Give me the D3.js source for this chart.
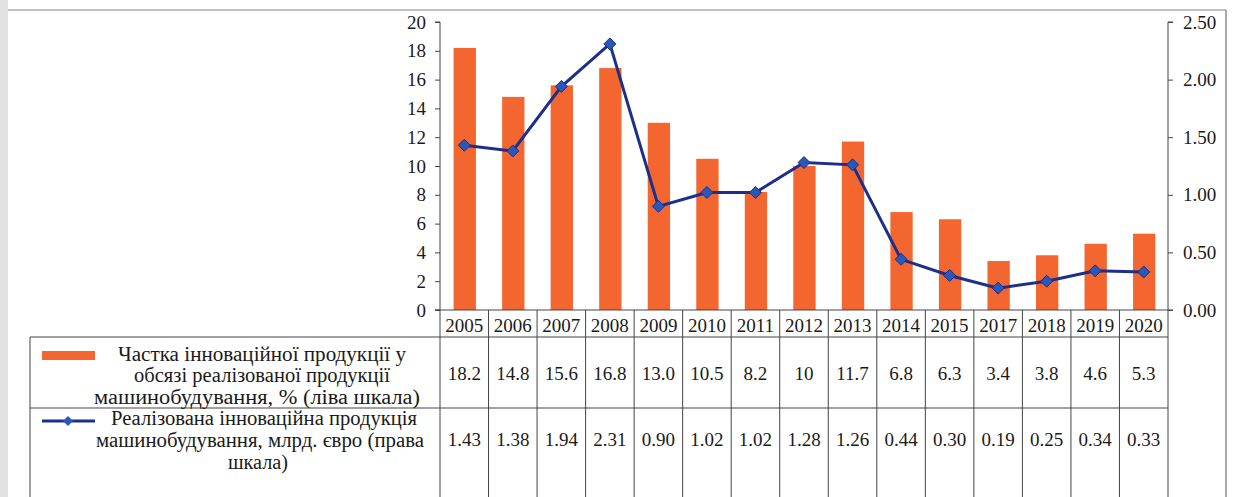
<!DOCTYPE html>
<html><head><meta charset="utf-8">
<script src="https://cdn.jsdelivr.net/npm/d3@7/dist/d3.min.js"></script>
<style>
body{margin:0;background:#fff;}
</style></head>
<body><svg id="c" width="1234" height="497"></svg>
<script>
const years = ["2005","2006","2007","2008","2009","2010","2011","2012","2013","2014","2015","2017","2018","2019","2020"];
const shareValues = [18.2,14.8,15.6,16.8,13.0,10.5,8.2,10,11.7,6.8,6.3,3.4,3.8,4.6,5.3];
const shareLabels = ["18.2","14.8","15.6","16.8","13.0","10.5","8.2","10","11.7","6.8","6.3","3.4","3.8","4.6","5.3"];
const salesValues = [1.43,1.38,1.94,2.31,0.90,1.02,1.02,1.28,1.26,0.44,0.30,0.19,0.25,0.34,0.33];
const salesLabels = ["1.43","1.38","1.94","2.31","0.90","1.02","1.02","1.28","1.26","0.44","0.30","0.19","0.25","0.34","0.33"];
const leftTicks = [0,2,4,6,8,10,12,14,16,18,20];
const rightTicks = [0,0.5,1,1.5,2,2.5];
const shareLegend = ["Частка інноваційної продукції у","обсязі реалізованої продукції","машинобудування, % (ліва шкала)"];
const salesLegend = ["Реалізована інноваційна продукція","машинобудування, млрд. євро (права","шкала)"];

const FONT = "'Liberation Serif', Tinos, 'Times New Roman', Times, 'DejaVu Serif', serif";
const svg = d3.select("#c");
const BAR = "#f4662f", LINE = "#1c2f8a", MARK = "#2a58b8", GRID = "#444";

// page artifacts
svg.append("rect").attr("x",0).attr("y",0).attr("width",8).attr("height",497).attr("fill","#e2e2e2");
svg.append("line").attr("x1",8).attr("x2",1226).attr("y1",10).attr("y2",10).attr("stroke","#888").attr("stroke-width",1.2);
svg.append("line").attr("x1",1226).attr("x2",1226).attr("y1",10).attr("y2",497).attr("stroke","#555");

const x = d3.scaleBand().domain(years).range([440,1168]);
const yL = d3.scaleLinear().domain([0,20]).range([310,22]);
const yR = d3.scaleLinear().domain([0,2.5]).range([310,22]);

// bars
svg.append("g").selectAll("rect").data(years).join("rect")
  .attr("x", d => x(d) + x.bandwidth()*0.28)
  .attr("width", x.bandwidth()*0.46)
  .attr("y", (d,i) => yL(shareValues[i]))
  .attr("height", (d,i) => yL(0) - yL(shareValues[i]))
  .attr("fill", BAR);

// axes
const gl = svg.append("g").attr("transform","translate(440,0)")
  .call(d3.axisLeft(yL).tickValues(leftTicks).tickSize(5).tickPadding(9).tickFormat(d3.format("d")));
const gr = svg.append("g").attr("transform","translate(1168,0)")
  .call(d3.axisRight(yR).tickValues(rightTicks).tickSize(5).tickPadding(10).tickFormat(d3.format(".2f")));
[gl,gr].forEach(g=>{
  g.attr("font-family",null).attr("font-size",null);
  g.select(".domain").attr("stroke",GRID).attr("d", g===gl ? "M-5,22H0V310H-5" : "M5,22H0V310H5");
  g.selectAll(".tick line").attr("stroke",GRID);
  g.selectAll("text").style("font-family",FONT).style("font-size","19px").attr("fill","#1a1a1a");
});

// x axis line
svg.append("line").attr("x1",435).attr("x2",1168).attr("y1",310).attr("y2",310).attr("stroke",GRID);

// line series
const line = d3.line().x((d,i)=>x(years[i])+x.bandwidth()/2).y(d=>yR(d));
svg.append("path").datum(salesValues).attr("d",line).attr("fill","none").attr("stroke",LINE).attr("stroke-width",3);
svg.append("g").selectAll("path").data(salesValues).join("path")
  .attr("transform",(d,i)=>`translate(${x(years[i])+x.bandwidth()/2},${yR(d)})`)
  .attr("d","M0,-6L6,0L0,6L-6,0Z").attr("fill",MARK).attr("stroke",LINE).attr("stroke-width",1);

// data table
const T = svg.append("g");
const bounds = years.map(d=>x(d)).concat([1168]);
T.selectAll("line.v").data(bounds).join("line").attr("class","v")
  .attr("x1",d=>d).attr("x2",d=>d).attr("y1",310).attr("y2",497).attr("stroke",GRID);
T.append("line").attr("x1",30).attr("x2",30).attr("y1",337).attr("y2",497).attr("stroke",GRID);
[337,408].forEach(y=>T.append("line").attr("x1",30).attr("x2",1168).attr("y1",y).attr("y2",y).attr("stroke",GRID));

function txt(sel, fs){ return sel.style("font-family",FONT).style("font-size",(fs||19)+"px").attr("fill","#1a1a1a").attr("dominant-baseline","middle"); }
txt(T.selectAll("text.yr").data(years).join("text").attr("class","yr")
  .attr("x",d=>x(d)+x.bandwidth()/2).attr("y",328).attr("text-anchor","middle").text(d=>d));
txt(T.selectAll("text.r1").data(shareLabels).join("text").attr("class","r1")
  .attr("x",(d,i)=>x(years[i])+x.bandwidth()/2).attr("y",376).attr("text-anchor","middle").text(d=>d));
txt(T.selectAll("text.r2").data(salesLabels).join("text").attr("class","r2")
  .attr("x",(d,i)=>x(years[i])+x.bandwidth()/2).attr("y",442).attr("text-anchor","middle").text(d=>d));

// legend cells
const shareLayout = [[262,288],[262,256],[257,326]];
const salesLayout = [[264,306],[260,328],[258,60]];
T.append("rect").attr("x",42).attr("y",351).attr("width",53).attr("height",9).attr("fill",BAR);
shareLegend.forEach((t,i)=>txt(T.append("text").attr("x",shareLayout[i][0]).attr("y",356+i*21.5)
  .attr("text-anchor","middle").attr("textLength",shareLayout[i][1]).attr("lengthAdjust","spacingAndGlyphs").text(t),20));
T.append("line").attr("x1",42).attr("x2",95).attr("y1",421).attr("y2",421).attr("stroke",LINE).attr("stroke-width",3);
T.append("path").attr("transform","translate(68,421)").attr("d","M0,-5L5,0L0,5L-5,0Z").attr("fill",MARK);
salesLegend.forEach((t,i)=>txt(T.append("text").attr("x",salesLayout[i][0]).attr("y",420+i*22)
  .attr("text-anchor","middle").attr("textLength",salesLayout[i][1]).attr("lengthAdjust","spacingAndGlyphs").text(t),20));
</script></body></html>
